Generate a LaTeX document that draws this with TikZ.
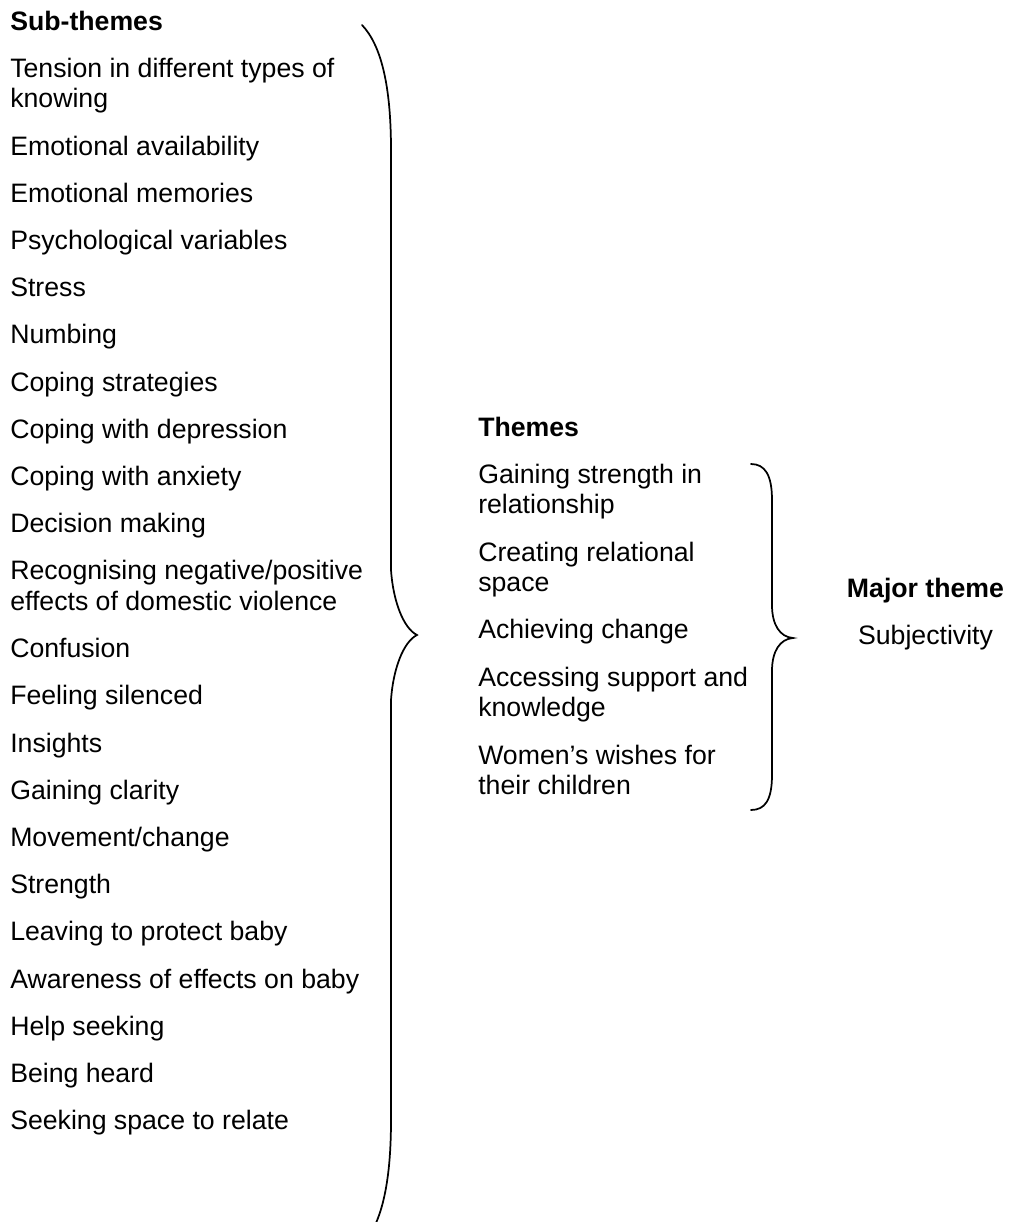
\documentclass[tikz,border=0pt]{standalone}
\usepackage{fontspec}
\setmainfont{Liberation Sans}
\usetikzlibrary{positioning}
\newcommand{\itemfont}{\fontsize{20}{23}\selectfont}

\begin{document}
\begin{tikzpicture}[x=0.75pt,y=-0.75pt,node distance=35.4pt,
    item/.style={font=\itemfont,inner sep=0pt,align=left},
    head/.style={item,font=\itemfont\bfseries},
    sub/.style={item,below=of #1.base west,anchor=base west},
    subtwo/.style={item,below=58.4pt of #1.base west,anchor=base west},
    brace/.style={line width=1.3pt,line cap=round}]

    \useasboundingbox (0,0) rectangle (1012,1222);

    % sub-themes
    \node[head,anchor=base west] (subhead) at (10,30) {Sub-themes};
    \node[subtwo=subhead] (s01) {Tension in different types of\\knowing};
    \node[sub=s01] (s02) {Emotional availability};
    \node[sub=s02] (s03) {Emotional memories};
    \node[sub=s03] (s04) {Psychological variables};
    \node[sub=s04] (s05) {Stress};
    \node[sub=s05] (s06) {Numbing};
    \node[sub=s06] (s07) {Coping strategies};
    \node[sub=s07] (s08) {Coping with depression};
    \node[sub=s08] (s09) {Coping with anxiety};
    \node[sub=s09] (s10) {Decision making};
    \node[subtwo=s10] (s11) {Recognising negative/positive\\effects of domestic violence};
    \node[sub=s11] (s12) {Confusion};
    \node[sub=s12] (s13) {Feeling silenced};
    \node[sub=s13] (s14) {Insights};
    \node[sub=s14] (s15) {Gaining clarity};
    \node[sub=s15] (s16) {Movement/change};
    \node[sub=s16] (s17) {Strength};
    \node[sub=s17] (s18) {Leaving to protect baby};
    \node[sub=s18] (s19) {Awareness of effects on baby};
    \node[sub=s19] (s20) {Help seeking};
    \node[sub=s20] (s21) {Being heard};
    \node[sub=s21] (s22) {Seeking space to relate};

    % themes
    \node[head,anchor=base west] (themehead) at (478,436) {Themes};
    \node[subtwo=themehead] (t1) {Gaining strength in\\relationship};
    \node[subtwo=t1] (t2) {Creating relational\\space};
    \node[sub=t2] (t3) {Achieving change};
    \node[subtwo=t3] (t4) {Accessing support and\\knowledge};
    \node[subtwo=t4] (t5) {Women’s wishes for\\their children};

    % major theme
    \node[head,anchor=base] (majorhead) at (925.5,597) {Major theme};
    \node[item,below=of majorhead.base,anchor=base] (major) {Subjectivity};

    % braces
    \coordinate (btop) at (362,25);
    \coordinate (btip) at (417,635);
    \coordinate (bbot) at (362,1245);
    \draw[brace] (btop) .. controls (381,45) and (391,85) .. (391,150)
        -- (391,570) .. controls (393,600) and (403,628) .. (btip)
        .. controls (403,642) and (393,670) .. (391,700)
        -- (391,1120) .. controls (391,1185) and (381,1225) .. (bbot);

    \coordinate (ttop) at (751,464);
    \coordinate (ttip) at (793,638);
    \coordinate (tbot) at (751,810);
    \draw[brace] (ttop) .. controls (765,464) and (772,475) .. (772,500)
        -- (772,605) .. controls (772,625) and (780,637) .. (ttip)
        .. controls (780,639) and (772,651) .. (772,671)
        -- (772,775) .. controls (772,800) and (765,810) .. (tbot);

\end{tikzpicture}
\end{document}
